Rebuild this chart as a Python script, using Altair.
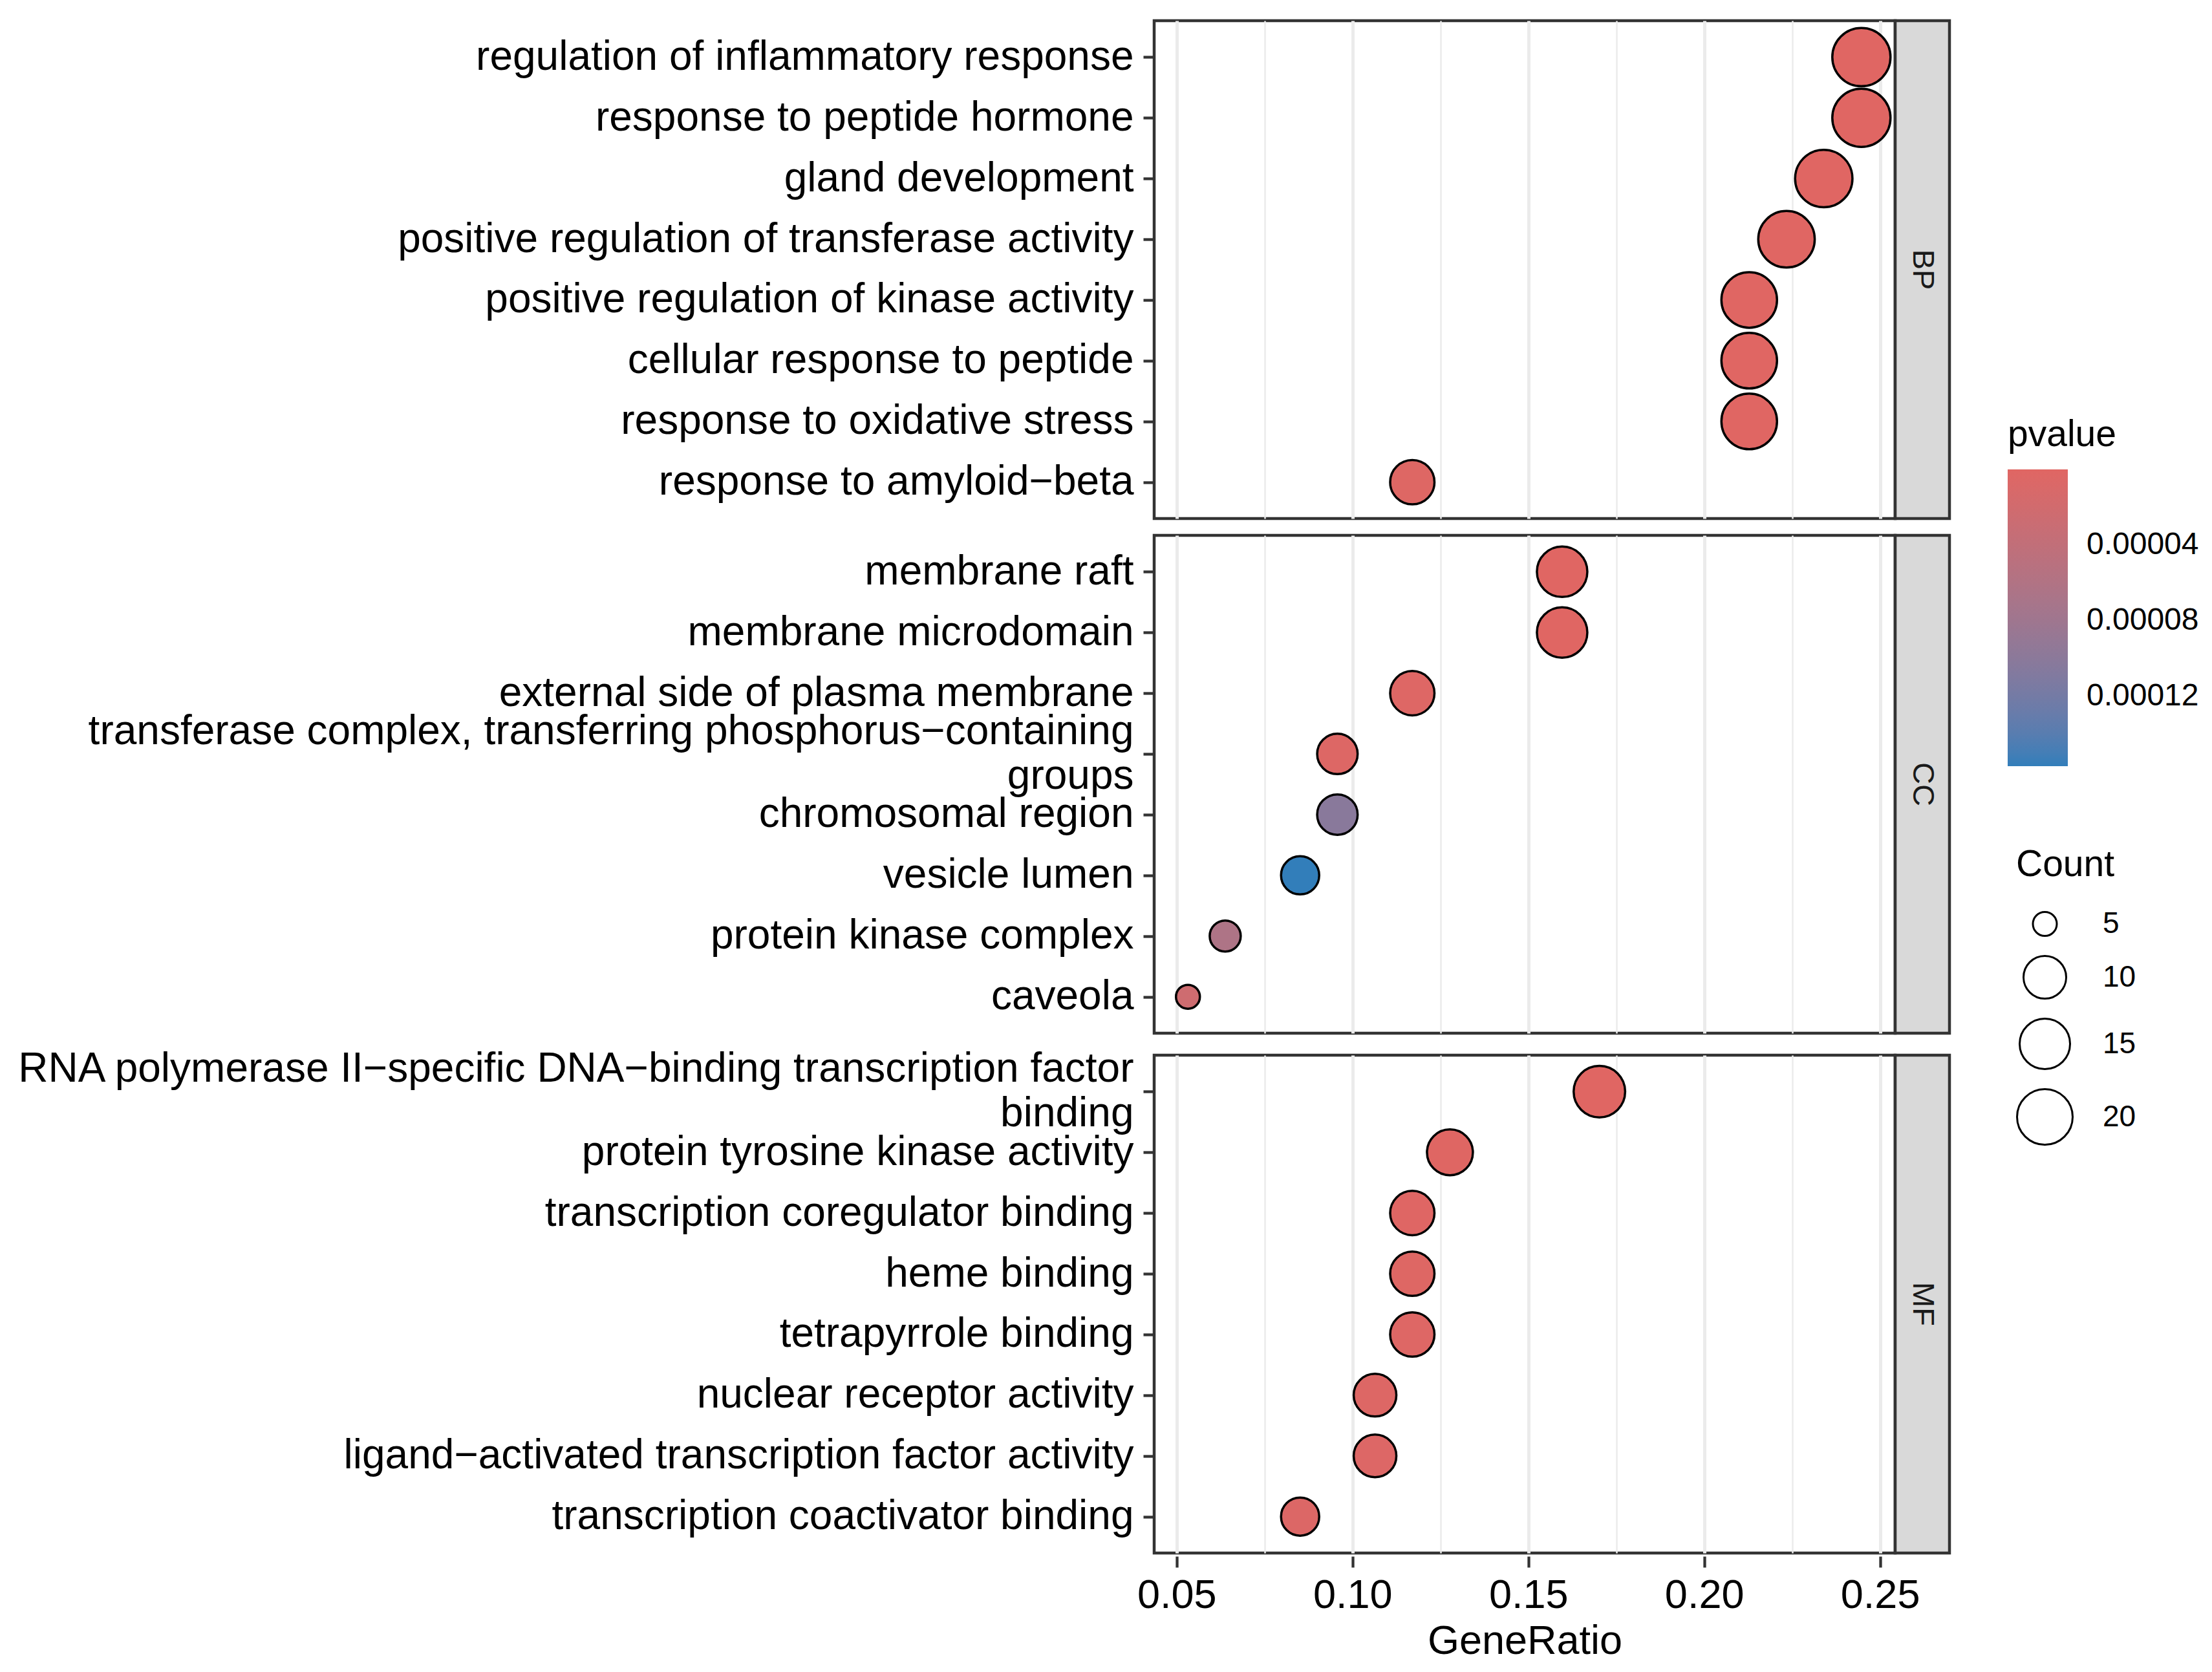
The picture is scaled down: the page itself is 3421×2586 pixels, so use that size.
import altair as alt
import pandas as pd

# ---------------- data ----------------
ontology = ["BP"] * 8 + ["CC"] * 8 + ["MF"] * 8
description = [
    "regulation of inflammatory response",
    "response to peptide hormone",
    "gland development",
    "positive regulation of transferase activity",
    "positive regulation of kinase activity",
    "cellular response to peptide",
    "response to oxidative stress",
    "response to amyloid\u2212beta",
    "membrane raft",
    "membrane microdomain",
    "external side of plasma membrane",
    "transferase complex, transferring phosphorus\u2212containing\ngroups",
    "chromosomal region",
    "vesicle lumen",
    "protein kinase complex",
    "caveola",
    "RNA polymerase II\u2212specific DNA\u2212binding transcription factor\nbinding",
    "protein tyrosine kinase activity",
    "transcription coregulator binding",
    "heme binding",
    "tetrapyrrole binding",
    "nuclear receptor activity",
    "ligand\u2212activated transcription factor activity",
    "transcription coactivator binding",
]
gene_ratio = [
    0.2447, 0.2447, 0.2340, 0.2234, 0.2128, 0.2128, 0.2128, 0.1170,
    0.1596, 0.1596, 0.1170, 0.0957, 0.0957, 0.0851, 0.0638, 0.0532,
    0.1702, 0.1277, 0.1170, 0.1170, 0.1170, 0.1064, 0.1064, 0.0851,
]
count = [
    23, 23, 22, 21, 20, 20, 20, 11,
    15, 15, 11, 9, 9, 8, 6, 5,
    16, 12, 11, 11, 11, 10, 10, 8,
]
pvalue = [
    1.2e-9, 2.5e-9, 6.8e-9, 1.4e-8, 3.1e-8, 4.6e-8, 8.9e-8, 2.2e-6,
    3.5e-7, 6.2e-7, 2.8e-6, 4.0e-6, 1.02e-4, 1.57e-4, 6.3e-5, 2.4e-5,
    1.9e-7, 8.4e-7, 1.1e-6, 2.6e-6, 3.3e-6, 4.1e-6, 4.7e-6, 5.2e-6,
]
x_major = [0.05, 0.10, 0.15, 0.20, 0.25]
x_minor = [0.075, 0.125, 0.175, 0.225]
p_ticks = [0.00004, 0.00008, 0.00012]
count_ticks = [5, 10, 15, 20]

df = pd.DataFrame({
    "Ontology": ontology,
    "Description": description,
    "GeneRatio": gene_ratio,
    "Count": count,
    "pvalue": pvalue,
})

# ---------------- layout constants ----------------
W, H = 1146, 770
STRIP = 84
BORDER = "#333333"

size_domain = [5, 6, 8, 10, 12, 15, 20, 23]
size_range = [1369, 2304, 3481, 4356, 5041, 6084, 7396, 8100]

minor_test = "round(datum.value * 1000) % 50 != 0"
wrap_test = "indexof(datum.value, '\\n') >= 0"

base = alt.Chart(df)

# the colour legend of ggplot runs from low p (top) to high p (bottom);
# Vega draws vertical gradients with the low end at the bottom, so the
# colour channel is driven by -pvalue and relabelled.
points = base.transform_calculate(
    neg_p="-datum.pvalue"
).mark_circle(stroke="black", strokeWidth=3.5, opacity=1).encode(
    x=alt.X(
        "GeneRatio:Q",
        title="GeneRatio",
        scale=alt.Scale(domain=[0.0436, 0.2543], nice=False, zero=False),
        axis=alt.Axis(
            values=sorted(x_major + x_minor),
            labelExpr=f"({minor_test}) ? '' : format(datum.value, '.2f')",
            gridColor="#EBEBEB",
            gridWidth={"condition": {"test": minor_test, "value": 2.5}, "value": 5},
            tickOpacity={"condition": {"test": minor_test, "value": 0}, "value": 1},
            tickColor=BORDER,
            tickWidth=4.3,
            tickSize=17,
            domain=False,
            labelFontSize=63,
            labelColor="black",
            labelPadding=12,
            labelFlush=False,
            labelOverlap=False,
            titleFontSize=63,
            titleColor="black",
            titleFontWeight="normal",
            titlePadding=8,
        ),
    ),
    y=alt.Y(
        "Description:N",
        title=None,
        sort=description,
        scale=alt.Scale(type="point", padding=0.6),
        axis=alt.Axis(
            labelExpr="split(datum.label, '\\n')",
            labelLineHeight=69,
            labelOffset={"condition": {"test": wrap_test, "value": -34.5}, "value": 0},
            labelFontSize=64,
            labelColor="black",
            labelLimit=0,
            labelPadding=15,
            tickColor=BORDER,
            tickWidth=4.3,
            tickSize=17,
            gridColor="#EBEBEB",
            gridWidth=5,
            domain=False,
        ),
    ),
    fill=alt.Fill(
        "neg_p:Q",
        scale=alt.Scale(
            domain=[-max(pvalue), -min(pvalue)],
            range=["#327eba", "#e06663"],
            interpolate="lab",
        ),
        legend=alt.Legend(
            title="pvalue",
            orient="none",
            legendX=1320,
            legendY=613,
            direction="vertical",
            gradientLength=459,
            gradientThickness=93,
            gradientStrokeWidth=0,
            values=[-v for v in p_ticks],
            labelExpr="format(-datum.value, '.5f')",
            labelFontSize=48,
            labelColor="black",
            labelOffset=29,
            titleFontSize=57,
            titleColor="black",
            titleFontWeight="normal",
            titlePadding=24,
        ),
    ),
    size=alt.Size(
        "Count:Q",
        scale=alt.Scale(domain=size_domain, range=size_range),
        legend=alt.Legend(
            title="Count",
            orient="none",
            legendX=1333,
            legendY=1278,
            values=count_ticks,
            symbolType="circle",
            symbolFillColor="white",
            symbolStrokeColor="black",
            symbolStrokeWidth=3,
            labelFontSize=46,
            labelColor="black",
            labelOffset=45,
            rowPadding=18,
            titleFontSize=57,
            titleColor="black",
            titleFontWeight="normal",
            titlePadding=39,
        ),
    ),
    tooltip=["Description:N", "GeneRatio:Q", "Count:Q", "pvalue:Q"],
)

strip_rect = base.transform_aggregate(
    n="count()", groupby=["Ontology"]
).mark_rect(fill="#D9D9D9", stroke=BORDER, strokeWidth=4.5).encode(
    x=alt.value(W), x2=alt.value(W + STRIP), y=alt.value(0), y2=alt.value(H)
)

strip_text = base.transform_aggregate(
    n="count()", groupby=["Ontology"]
).mark_text(angle=90, fontSize=47, color="#1A1A1A", align="center", baseline="middle").encode(
    x=alt.value(W + STRIP / 2), y=alt.value(H / 2), text="Ontology:N"
)

chart = (
    alt.layer(points, strip_rect, strip_text)
    .properties(width=W, height=H)
    .facet(
        row=alt.Row("Ontology:N", sort=["BP", "CC", "MF"], header=alt.Header(labels=False, title=None)),
        spacing=16,
    )
    .resolve_scale(y="independent")
    .configure(font="Liberation Sans", padding={"left": 14, "top": 19, "right": 0, "bottom": 10}, background="white")
    .configure_view(stroke=BORDER, strokeWidth=4.5)
)

chart.save("out.html", embed_options={"renderer": "svg", "actions": False})
